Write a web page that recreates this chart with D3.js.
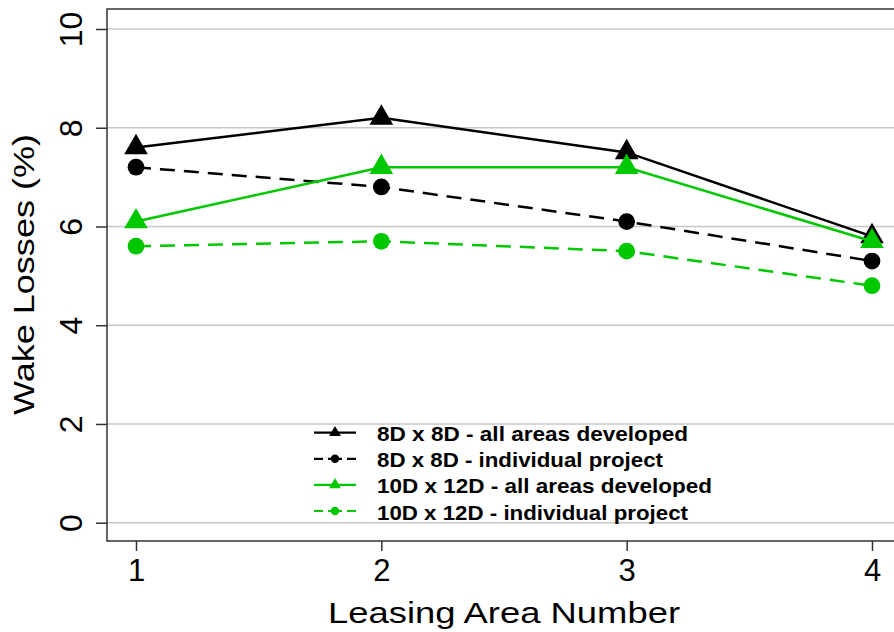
<!DOCTYPE html>
<html>
<head>
<meta charset="utf-8">
<script src="https://cdn.jsdelivr.net/npm/d3@7"></script>
<style>
  body { margin: 0; background: #fff; }
  text { font-family: "Liberation Sans", Arial, sans-serif; }
</style>
</head>
<body>
<svg id="chart" width="894" height="632"></svg>
<script>
const areas = [1, 2, 3, 4];
const yTicks = [0, 2, 4, 6, 8, 10];
const seriesNames = [
  "8D x 8D - all areas developed",
  "8D x 8D - individual project",
  "10D x 12D - all areas developed",
  "10D x 12D - individual project"
];
const allAreas8 = [7.6, 8.2, 7.5, 5.8];
const indiv8 = [7.2, 6.8, 6.1, 5.3];
const allAreas10 = [6.1, 7.2, 7.2, 5.7];
const indiv10 = [5.6, 5.7, 5.5, 4.8];

const green = "#00c800";
const legendWidths = [311, 286, 335, 311];
const series = [
  {name: seriesNames[0], values: allAreas8, color: "#000", dash: null, shape: "tri"},
  {name: seriesNames[1], values: indiv8, color: "#000", dash: "15,9", shape: "circ"},
  {name: seriesNames[2], values: allAreas10, color: green, dash: null, shape: "tri"},
  {name: seriesNames[3], values: indiv10, color: green, dash: "15,9", shape: "circ"}
];

const svg = d3.select("#chart");
const boxL = 107, boxR = 894, boxT = 9, boxB = 541;

const x = d3.scaleLinear().domain([1, 4]).range([136, 872]);
const y = d3.scaleLinear().domain([0, 10]).range([522.7, 29]);

// gridlines
svg.append("g").selectAll("line").data(yTicks).enter().append("line")
  .attr("x1", boxL).attr("x2", boxR)
  .attr("y1", d => y(d)).attr("y2", d => y(d))
  .attr("stroke", "#c8c8c8").attr("stroke-width", 1.5);

// box
svg.append("path")
  .attr("d", `M${boxR},${boxT}H${boxL}V${boxB}H${boxR}`)
  .attr("fill", "none").attr("stroke", "#333").attr("stroke-width", 1.5);

// y axis
const yAxis = svg.append("g").attr("transform", `translate(${boxL},0)`)
  .call(d3.axisLeft(y).tickValues(yTicks).tickSize(11).tickPadding(0).tickFormat(d3.format("d")));
yAxis.select(".domain").remove();
yAxis.selectAll(".tick line").attr("stroke", "#333").attr("stroke-width", 1.5);
yAxis.selectAll(".tick text")
  .attr("transform", "translate(-25,0) rotate(-90)")
  .attr("x", 0).attr("y", 0).attr("dy", 0)
  .attr("text-anchor", "middle")
  .attr("font-size", 32).attr("fill", "#000");

// x axis
const xAxis = svg.append("g").attr("transform", `translate(0,${boxB})`)
  .call(d3.axisBottom(x).tickValues(areas).tickSize(10).tickPadding(0).tickFormat(d3.format("d")));
xAxis.select(".domain").remove();
xAxis.selectAll(".tick line").attr("stroke", "#333").attr("stroke-width", 1.5);
xAxis.selectAll(".tick text").attr("y", 40).attr("dy", 0)
  .attr("font-size", 31).attr("fill", "#000");

// axis titles
svg.append("text").attr("x", 504).attr("y", 622.5).attr("text-anchor", "middle")
  .attr("font-size", 30).attr("textLength", 352).attr("lengthAdjust", "spacingAndGlyphs")
  .text("Leasing Area Number");
svg.append("text").attr("transform", "translate(33.5,274.5) rotate(-90)")
  .attr("text-anchor", "middle").attr("font-size", 29)
  .attr("textLength", 281).attr("lengthAdjust", "spacingAndGlyphs")
  .text("Wake Losses (%)");

const line = d3.line().x((d, i) => x(areas[i])).y(d => y(d));
const triPath = d3.symbol().type(d3.symbolTriangle);

function drawMarker(g, shape, cx, cy, color, size) {
  if (shape === "tri") {
    g.append("path").attr("d", triPath.size(size * 1.1)())
      .attr("transform", `translate(${cx},${cy})`).attr("fill", color);
  } else {
    g.append("circle").attr("cx", cx).attr("cy", cy).attr("r", Math.sqrt(size / Math.PI))
      .attr("fill", color);
  }
}

const plot = svg.append("g");
series.forEach(s => {
  plot.append("path").attr("d", line(s.values))
    .attr("fill", "none").attr("stroke", s.color).attr("stroke-width", 2.5)
    .attr("stroke-dasharray", s.dash);
  s.values.forEach((v, i) => drawMarker(plot, s.shape, x(areas[i]), y(v), s.color, 220));
});

// legend
const legend = svg.append("g");
series.forEach((s, i) => {
  const ly = 432.7 + i * 26.1;
  legend.append("line").attr("x1", 314).attr("x2", 356).attr("y1", ly).attr("y2", ly)
    .attr("stroke", s.color).attr("stroke-width", 2.2);
  if (s.dash) {
    legend.append("line").attr("x1", 323).attr("x2", 328).attr("y1", ly).attr("y2", ly)
      .attr("stroke", "#fff").attr("stroke-width", 3);
    legend.append("line").attr("x1", 342).attr("x2", 347).attr("y1", ly).attr("y2", ly)
      .attr("stroke", "#fff").attr("stroke-width", 3);
  }
  drawMarker(legend, s.shape, 335, ly, s.color, 55);
  legend.append("text").attr("x", 377).attr("y", ly + 8.5)
    .attr("font-size", 21).attr("font-weight", "bold")
    .attr("textLength", legendWidths[i]).attr("lengthAdjust", "spacingAndGlyphs")
    .text(s.name);
});
</script>
</body>
</html>
